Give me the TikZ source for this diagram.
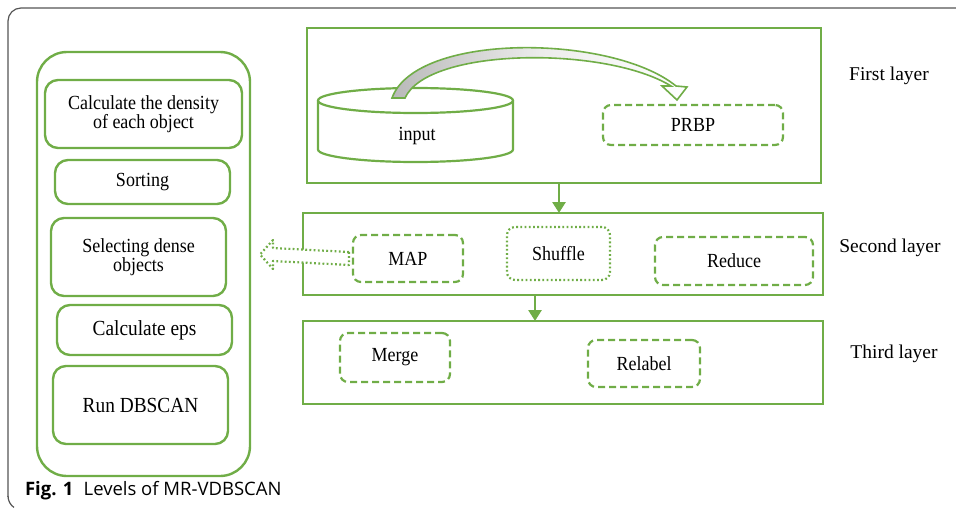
\documentclass[tikz,border=0pt]{standalone}
\usepackage{fontspec}
\setmainfont{Liberation Serif}
\newfontfamily\boxfont{Liberation Serif}[FakeStretch=0.9]
\newfontfamily\capfont{Open Sans}
\usetikzlibrary{arrows.meta,calc,fit}
\definecolor{grn}{RGB}{112,173,71}
\definecolor{frm}{RGB}{85,85,85}
\begin{document}
\begin{tikzpicture}[x=1pt,y=-1pt,
  every node/.style={inner sep=0pt,outer sep=0pt},
  btext/.style={font=\boxfont\fontsize{20}{18.5}\selectfont,align=center},
  bigtext/.style={font=\boxfont\fontsize{21.5}{20}\selectfont,align=center},
  gbox/.style={draw=grn,line width=2.4pt,rounded corners=13pt},
  layerbox/.style={draw=grn,line width=2.4pt},
  dbox/.style={draw=grn,line width=2.2pt,dash pattern=on 7pt off 4pt,rounded corners=8pt},
  obox/.style={draw=grn,line width=2.2pt,dash pattern=on 1.8pt off 2.4pt,rounded corners=8pt},
  lbl/.style={font=\fontsize{19.5}{22}\selectfont,anchor=base},
  varr/.style={draw=grn,line width=2.8pt,-{Triangle[width=13pt,length=11pt]}}
]
\useasboundingbox (0,0) rectangle (956,511);
% outer frame
\draw[frm,line width=1.2pt,rounded corners=13pt] (958,8) -- (8,8) -- (8,497);
\draw[frm,line width=1.2pt] (8,496) arc[start angle=180,end angle=235,radius=14pt];

% left column
\node[draw=grn,line width=2.4pt,rounded corners=30pt,fit={(37,52) (250,476)}] (col) {};
\node[gbox,fit={(45,80) (242,148)}] (dens) {};
\node[gbox,fit={(55,160) (230,204)}] (sort) {};
\node[gbox,fit={(51,218) (226,296)}] (sel) {};
\node[gbox,fit={(57,305) (232,355)}] (eps) {};
\node[gbox,fit={(53,366) (228,444)}] (run) {};
\node[btext] (densT) at (dens) {Calculate the density\\of each object};
\node[btext] (sortT) at (sort) {Sorting};
\node[btext] (selT) at (sel) {Selecting dense\\objects};
\node[bigtext] (epsT) at (eps) {Calculate eps};
\node[bigtext] (runT) at (run) {Run DBSCAN};

% layers
\node[layerbox,fit={(307,28) (821,183)}] (L1) {};
\node[layerbox,fit={(303,213) (823,295)}] (L2) {};
\node[layerbox,fit={(303,321) (823,404)}] (L3) {};

% cylinder (input)
\draw[grn,line width=2.2pt] (415.5,100.5) ellipse [x radius=97.5pt,y radius=12.5pt];
\draw[grn,line width=2.2pt] (318,100.5) -- (318,149.5)
   arc[start angle=180,end angle=360,x radius=97.5pt,y radius=12.5pt] -- (513,100.5);
\node[btext,anchor=base] (input) at (417,140) {input};

% PRBP
\node[dbox,fit={(603,105) (783,145)}] (prbp) {};
\node[btext] (prbpT) at (prbp) {PRBP};

% curved block arrow input -> PRBP
\path[draw=grn,line width=1.6pt,left color=gray!55,right color=white,middle color=white!85!gray]
  (392,98) .. controls (416,32) and (612,34) .. (676,86)
  -- (687,87) -- (677,100) -- (662,86) -- (671,86)
  .. controls (606,46) and (428,47) .. (405,98) -- cycle;

% second layer
\node[dbox,fit={(353,235) (463,282)}] (map) {};
\node[obox,fit={(507,227) (610,280)}] (shuf) {};
\node[dbox,fit={(655,237) (813,285)}] (red) {};
\node[btext] (mapT) at (map) {MAP};
\node[btext] (shufT) at (shuf) {Shuffle};
\node[btext] (redT) at (red) {Reduce};

% third layer
\node[dbox,fit={(340,333) (450,382)}] (merge) {};
\node[dbox,fit={(588,340) (700,387)}] (relab) {};
\node[btext] (mergeT) at (merge) {Merge};
\node[btext] (relabT) at (relab) {Relabel};

% vertical arrows
\coordinate (a1) at (559,0);
\coordinate (a2) at (535,0);
\draw[varr] (L1.south -| a1) -- (L2.north -| a1);
\draw[varr] (L2.south -| a2) -- (L3.north -| a2);

% hollow dotted arrow from MAP towards left column
\coordinate (tipL) at (260,254.5);
\path[draw=grn,line width=2.2pt,dash pattern=on 1.8pt off 2.4pt,fill=white,line join=round]
  ($(map.west)+(-4,-6.5)$) -- (273,248) -- (273,240) -- (tipL) -- (273,269) -- (273,261)
  -- ($(map.west)+(-4,6.5)$) -- cycle;

% layer labels
\node[lbl] (t1) at (889,81) {First layer};
\node[lbl] (t2) at (890,252) {Second layer};
\node[lbl] (t3) at (894,358) {Third layer};

% caption
\node[anchor=base west,font=\capfont\fontsize{18.5}{20}\selectfont] (cap) at (25,495)
  {\textbf{Fig. 1}\hspace{0.55em}Levels of MR-VDBSCAN};
\end{tikzpicture}
\end{document}
